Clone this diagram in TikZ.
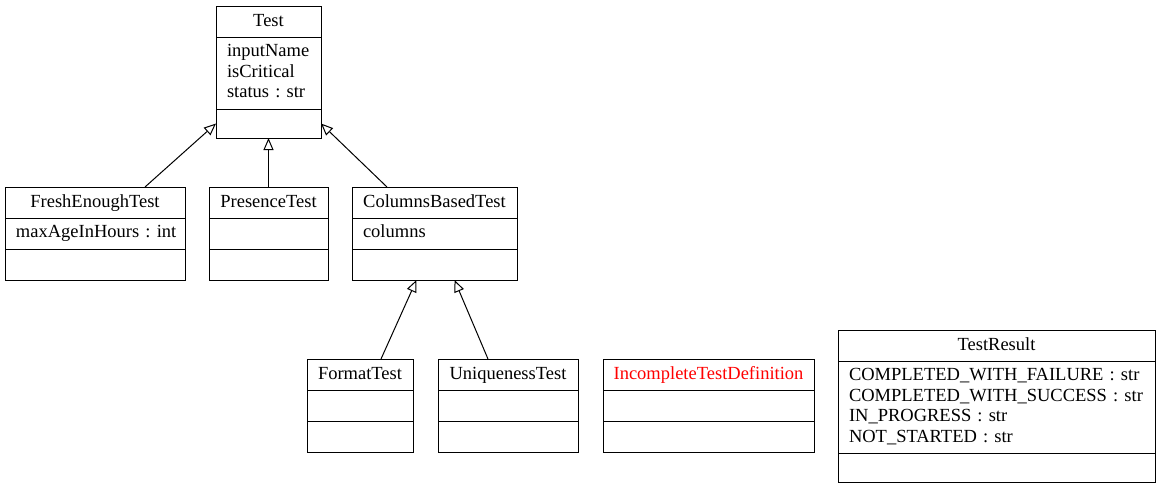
\documentclass[tikz,border=0pt]{standalone}
\usepackage{fontspec}
\setmainfont{Liberation Serif}
\usetikzlibrary{positioning,calc,arrows.meta}
\newcommand\umlfont{\fontsize{18.5}{20.5}\selectfont}
\begin{document}
\begin{tikzpicture}[
        x=1pt, y=-1pt, line width=1pt,
        every node/.style={font=\umlfont, outer sep=0pt},
        ctitle/.style={draw, anchor=north, minimum width=#1, inner xsep=0pt, inner ysep=5.25pt, text height=15.1pt, text depth=5.4pt},
        cbody/.style={draw, anchor=north, text width=#1, inner xsep=11pt, inner ysep=5.25pt, align=left},
        extends/.style={-{Triangle[open,fill=white,length=12pt,width=10pt]}}
    ]
    \useasboundingbox (0,0) rectangle (1160,488);
    % base class
    \node[ctitle=105pt] (test) at (268.5,6) {Test};
    \node[cbody=83pt, below=0pt of test] (test-a) {\strut inputName\\isCritical\\status~:~str\strut};
    \node[cbody=83pt, below=0pt of test-a, inner ysep=4.25pt] (test-m) {\strut};
    % second row
    \node[ctitle=180pt] (fresh) at (95,187) {FreshEnoughTest};
    \node[cbody=158pt, below=0pt of fresh] (fresh-a) {\strut maxAgeInHours~:~int\strut};
    \node[cbody=158pt, below=0pt of fresh-a] (fresh-m) {\strut};
    \node[ctitle=119pt] (presence) at (268.5,187) {PresenceTest};
    \node[cbody=97pt, below=0pt of presence] (presence-a) {\strut};
    \node[cbody=97pt, below=0pt of presence-a] (presence-m) {\strut};
    \node[ctitle=165pt] (cols) at (434.5,187) {ColumnsBasedTest};
    \node[cbody=143pt, below=0pt of cols] (cols-a) {\strut columns\strut};
    \node[cbody=143pt, below=0pt of cols-a] (cols-m) {\strut};
    % third row
    \node[ctitle=106pt] (format) at (360,359) {FormatTest};
    \node[cbody=84pt, below=0pt of format] (format-a) {\strut};
    \node[cbody=84pt, below=0pt of format-a] (format-m) {\strut};
    \node[ctitle=140pt] (uniq) at (508,359) {UniquenessTest};
    \node[cbody=118pt, below=0pt of uniq] (uniq-a) {\strut};
    \node[cbody=118pt, below=0pt of uniq-a] (uniq-m) {\strut};
    \node[ctitle=211pt, text=red] (incomplete) at (708.5,359) {IncompleteTestDefinition};
    \node[cbody=189pt, below=0pt of incomplete] (incomplete-a) {\strut};
    \node[cbody=189pt, below=0pt of incomplete-a] (incomplete-m) {\strut};
    \node[ctitle=317pt] (result) at (996.5,330) {TestResult};
    \node[cbody=295pt, below=0pt of result] (result-a) {\strut COMPLETED\_WITH\_FAILURE~:~str\\COMPLETED\_WITH\_SUCCESS~:~str\\IN\_PROGRESS~:~str\\NOT\_STARTED~:~str\strut};
    \node[cbody=295pt, below=0pt of result-a, inner ysep=4.25pt] (result-m) {\strut};
    % inheritance
    \draw[extends] ($(fresh.north east)+(-40,0)$) -- (test-m.west);
    \draw[extends] (presence.north) -- (test-m.south);
    \draw[extends] ($(cols.north west)+(35,0)$) -- (test-m.east);
    \draw[extends] ($(format.north)+(21,0)$) -- ($(cols-m.south)+(-18,0)$);
    \draw[extends] ($(uniq.north)+(-20,0)$) -- ($(cols-m.south)+(20,0)$);
\end{tikzpicture}
\end{document}
